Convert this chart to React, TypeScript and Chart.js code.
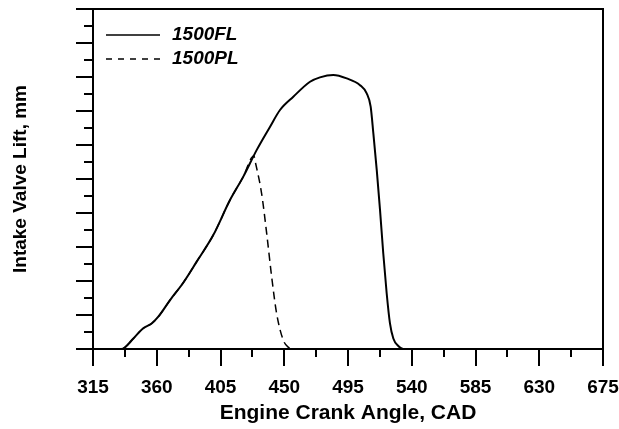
import React, { useEffect, useRef } from "react";
import { Chart, registerables } from "chart.js";

Chart.register(...registerables);

// ---- data ----
const xTickValues = [315, 360, 405, 450, 495, 540, 585, 630, 675];
const seriesLabels = ["1500FL", "1500PL"];
const xTitle = "Engine Crank Angle, CAD";
const yTitle = "Intake Valve Lift, mm";

const fullLiftCad = [315, 335, 337.6, 343.5, 350.5, 356.4, 361.1, 369.4, 378.7, 388.2, 399.9, 411.7, 421.1, 430.5, 440, 447, 456.4, 468.2, 475.2, 484.6, 494.1, 503.5, 508.2, 511, 512.9, 515.3, 517.6, 519.9, 522.3, 524.6, 527, 530.5, 534, 675];
const fullLiftMm = [0, 0, 0.05, 0.31, 0.61, 0.75, 0.95, 1.44, 1.95, 2.57, 3.35, 4.38, 5.07, 5.85, 6.54, 7.03, 7.42, 7.86, 7.99, 8.06, 7.96, 7.76, 7.52, 7.13, 6.34, 5.26, 4.09, 2.81, 1.64, 0.76, 0.31, 0.09, 0, 0];

const partLiftCad = [315, 335, 337.6, 343.5, 350.5, 356.4, 361.1, 369.4, 378.7, 388.2, 399.9, 411.7, 421.1, 428.5, 430, 434, 437.6, 441.1, 444.6, 449.3, 453, 457, 675];
const partLiftMm = [0, 0, 0.05, 0.31, 0.61, 0.75, 0.95, 1.44, 1.95, 2.57, 3.35, 4.38, 5.07, 5.68, 5.42, 4.58, 3.4, 2.13, 1.05, 0.26, 0.05, 0, 0];

const FONT = "'Liberation Sans', Arial, Helvetica, sans-serif";

const framePlugin = {
  id: "frameTicks",
  afterDatasetsDraw(chart: any) {
    const { ctx, chartArea: a, scales } = chart;
    const xs = scales.x;
    const ys = scales.y;
    ctx.save();
    ctx.strokeStyle = "#000";
    ctx.lineWidth = 2;
    ctx.strokeRect(Math.round(a.left), Math.round(a.top), Math.round(a.right - a.left), Math.round(a.bottom - a.top));
    ctx.beginPath();
    const b = Math.round(a.bottom);
    for (let i = 0; i < xTickValues.length; i++) {
      const px = Math.round(xs.getPixelForValue(xTickValues[i]));
      ctx.moveTo(px, b);
      ctx.lineTo(px, b + 17);
      if (i < xTickValues.length - 1) {
        const mid = Math.round(xs.getPixelForValue((xTickValues[i] + xTickValues[i + 1]) / 2));
        ctx.moveTo(mid, b);
        ctx.lineTo(mid, b + 8);
      }
    }
    const l = Math.round(a.left);
    for (let v = ys.min; v <= ys.max + 1e-9; v += 0.5) {
      const py = Math.round(ys.getPixelForValue(v));
      const major = Math.abs(v - Math.round(v)) < 1e-6;
      ctx.moveTo(l - (major ? 17 : 9), py);
      ctx.lineTo(l, py);
    }
    ctx.stroke();
    ctx.restore();
  },
};

const legendPlugin = {
  id: "insideLegend",
  afterDraw(chart: any) {
    const { ctx, chartArea: a } = chart;
    ctx.save();
    chart.data.datasets.forEach((ds: any, i: number) => {
      const y = a.top + 26 + i * 24;
      ctx.strokeStyle = ds.borderColor;
      ctx.lineWidth = 1.5;
      ctx.setLineDash(ds.borderDash && ds.borderDash.length ? [6, 6] : []);
      ctx.beginPath();
      ctx.moveTo(a.left + 13, y);
      ctx.lineTo(a.left + 67, y);
      ctx.stroke();
      ctx.setLineDash([]);
      ctx.fillStyle = "#000";
      ctx.font = `italic bold 19px ${FONT}`;
      ctx.textBaseline = "middle";
      ctx.textAlign = "left";
      ctx.fillText(ds.label, a.left + 79, y);
    });
    ctx.restore();
  },
};

export default function App() {
  const ref = useRef<HTMLCanvasElement | null>(null);

  useEffect(() => {
    if (!ref.current) return;
    const chart = new Chart(ref.current, {
      type: "line",
      data: {
        datasets: [
          {
            label: seriesLabels[0],
            data: fullLiftCad.map((x, i) => ({ x, y: fullLiftMm[i] })),
            borderColor: "#000",
            borderWidth: 2,
            pointRadius: 0,
            fill: false,
            cubicInterpolationMode: "monotone",
          },
          {
            label: seriesLabels[1],
            data: partLiftCad.map((x, i) => ({ x, y: partLiftMm[i] })),
            borderColor: "#000",
            borderWidth: 1.5,
            borderDash: [8, 5],
            pointRadius: 0,
            fill: false,
            cubicInterpolationMode: "monotone",
          },
        ],
      },
      options: {
        animation: false,
        responsive: false,
        events: [],
        layout: { padding: { left: 0, top: 9, right: 16, bottom: 0 } },
        plugins: {
          legend: { display: false },
          tooltip: { enabled: false },
        },
        scales: {
          x: {
            type: "linear",
            min: 315,
            max: 675,
            afterBuildTicks: (scale: any) => {
              scale.ticks = xTickValues.map((v) => ({ value: v }));
            },
            afterFit: (scale: any) => {
              scale.height = 80;
              scale.paddingLeft = 0;
              scale.paddingRight = 0;
            },
            grid: { display: false },
            border: { display: false },
            ticks: {
              color: "#000",
              padding: 19,
              maxRotation: 0,
              autoSkip: false,
              font: { family: FONT, size: 19, weight: "bold" },
            },
            title: {
              display: true,
              text: xTitle,
              color: "#000",
              padding: { top: 0, bottom: 5 },
              font: { family: FONT, size: 21, weight: "bold", lineHeight: 1 },
            },
          },
          y: {
            type: "linear",
            min: 0,
            max: 10,
            afterFit: (scale: any) => {
              scale.width = 93;
              scale.paddingTop = 0;
              scale.paddingBottom = 0;
            },
            grid: { display: false },
            border: { display: false },
            ticks: { display: false, stepSize: 1 },
            title: {
              display: true,
              text: yTitle,
              color: "#000",
              padding: { top: 11.5, bottom: 0 },
              font: { family: FONT, size: 19, weight: "bold", lineHeight: 1 },
            },
          },
        },
      },
      plugins: [framePlugin, legendPlugin],
    } as any);
    return () => chart.destroy();
  }, []);

  return (
    <div style={{ position: "fixed", left: 0, top: 0, width: 619, height: 429, background: "#fff" }}>
      <canvas ref={ref} width={619} height={429} style={{ display: "block" }} />
    </div>
  );
}
